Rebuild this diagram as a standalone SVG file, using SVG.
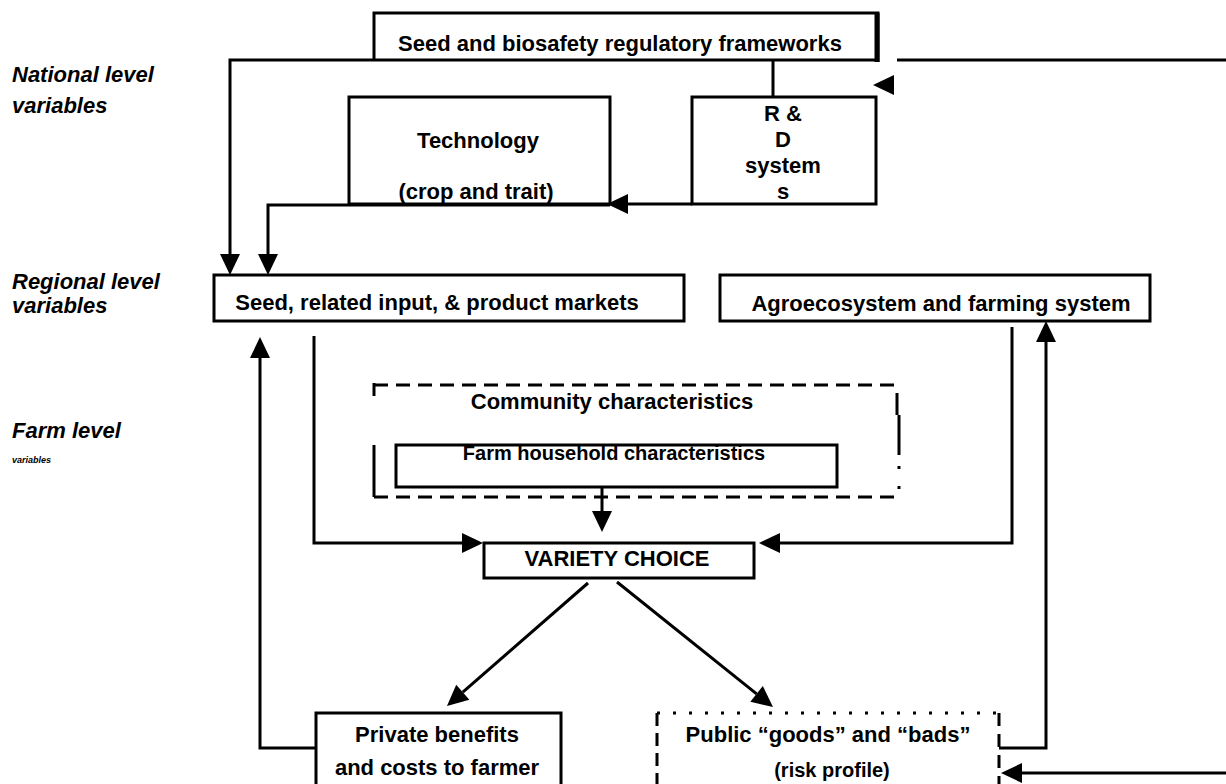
<svg xmlns="http://www.w3.org/2000/svg" width="1226" height="784" viewBox="0 0 1226 784">
  <style>
    .box { fill: #fff; stroke: #000; stroke-width: 3; }
    .edge { fill: none; stroke: #000; stroke-width: 3; }
    .t { font-family: "Liberation Sans", Arial, sans-serif; font-weight: bold; font-size: 22px; text-anchor: middle; fill: #000; }
    .t20 { font-size: 20px; }
    .lbl { font-family: "Liberation Sans", Arial, sans-serif; font-weight: bold; font-style: italic; font-size: 22px; fill: #000; }
    .tiny { font-size: 9px; }
    #connectors path { fill: none; stroke: #000; stroke-width: 3; }
  </style>
  <defs>
    <marker id="ah" markerUnits="userSpaceOnUse" markerWidth="22" markerHeight="20" refX="0" refY="10" orient="auto" overflow="visible">
      <path d="M0,0 L21,10 L0,20 z" fill="#000"/>
    </marker>
  </defs>
  <rect width="1226" height="784" fill="#fff"/>

  <!-- level labels -->
  <g id="labels">
    <text class="lbl" x="12" y="82">National level</text>
    <text class="lbl" x="12" y="113">variables</text>
    <text class="lbl" x="12" y="289">Regional level</text>
    <text class="lbl" x="12" y="313">variables</text>
    <text class="lbl" x="12" y="438">Farm level</text>
    <text class="lbl tiny" x="12" y="463">variables</text>
  </g>

  <!-- connectors -->
  <g id="connectors">
    <path d="M374,60 H230 V254" marker-end="url(#ah)"/>
    <path d="M773,60 V97"/>
    <path d="M692,204 H628" marker-end="url(#ah)"/>
    <path d="M610,205 H268 V254" marker-end="url(#ah)"/>
    <path d="M316,748 H260 V358" marker-end="url(#ah)"/>
    <path d="M314,336 V543 H462" marker-end="url(#ah)"/>
    <path d="M1012,327 V543 H780" marker-end="url(#ah)"/>
    <path d="M999,748 H1046 V342" marker-end="url(#ah)"/>
    <path d="M602,487 V511" marker-end="url(#ah)"/>
    <path d="M588,583 L462.8,692.2" marker-end="url(#ah)"/>
    <path d="M617,582 L756.6,693.9" marker-end="url(#ah)"/>
    <path d="M1226,773 H1022" marker-end="url(#ah)"/>
    <path d="M897,60 H1226"/>
    <polygon points="873,85 894,75 894,95" fill="#000"/>
  </g>

  <g id="regulatory">
    <path class="edge" d="M374,60 V13 H878 V62"/>
    <line x1="877" y1="13" x2="877" y2="62" stroke="#000" stroke-width="5"/>
    <line x1="374" y1="60" x2="878" y2="60" stroke="#000" stroke-width="3"/>
    <text class="t" x="620" y="51">Seed and biosafety regulatory frameworks</text>
  </g>

  <g id="technology">
    <rect class="box" x="349" y="97" width="261" height="107"/>
    <text class="t" x="478" y="148">Technology</text>
    <text class="t" x="476" y="199">(crop and trait)</text>
  </g>

  <g id="rnd">
    <rect class="box" x="692" y="97" width="184" height="107"/>
    <text class="t" x="783" y="121">R &amp;</text>
    <text class="t" x="783" y="147">D</text>
    <text class="t" x="783" y="173">system</text>
    <text class="t" x="783" y="199">s</text>
  </g>

  <g id="markets">
    <rect class="box" x="214" y="275" width="470" height="46"/>
    <text class="t" x="437" y="310">Seed, related input, &amp; product markets</text>
  </g>

  <g id="agroecosystem">
    <rect class="box" x="720" y="275" width="430" height="46"/>
    <text class="t" x="941" y="311">Agroecosystem and farming system</text>
  </g>

  <g id="community">
    <line class="edge" x1="374" y1="385" x2="897" y2="385" stroke-dasharray="14 8"/>
    <line class="edge" x1="374" y1="497" x2="897" y2="497" stroke-dasharray="14 8"/>
    <line class="edge" x1="374" y1="383" x2="374" y2="396"/>
    <line class="edge" x1="374" y1="445" x2="374" y2="497"/>
    <line class="edge" x1="897" y1="393" x2="897" y2="415"/>
    <line class="edge" x1="899" y1="415" x2="899" y2="455"/>
    <line class="edge" x1="899" y1="466" x2="899" y2="469"/>
    <line class="edge" x1="899" y1="486" x2="899" y2="489"/>
    <text class="t" x="612" y="409">Community characteristics</text>
  </g>

  <g id="household">
    <rect class="box" x="396" y="445" width="441" height="42"/>
    <text class="t t20" x="614" y="460">Farm household characteristics</text>
  </g>

  <g id="variety">
    <rect class="box" x="484" y="543" width="270" height="35"/>
    <text class="t" x="617" y="566">VARIETY CHOICE</text>
  </g>

  <g id="private">
    <rect class="box" x="316" y="713" width="245" height="80"/>
    <text class="t" x="437" y="742">Private benefits</text>
    <text class="t" x="437" y="775">and costs to farmer</text>
  </g>

  <g id="public">
    <rect x="657" y="713" width="342" height="80" fill="#fff"/>
    <line class="edge" x1="657" y1="713" x2="999" y2="713" stroke-dasharray="3 13"/>
    <line class="edge" x1="657" y1="713" x2="657" y2="790" stroke-dasharray="13 7"/>
    <line class="edge" x1="999" y1="713" x2="999" y2="790" stroke-dasharray="13 8"/>
    <text class="t" x="828" y="742">Public “goods” and “bads”</text>
    <text class="t t20" x="832" y="777">(risk profile)</text>
  </g>
</svg>
